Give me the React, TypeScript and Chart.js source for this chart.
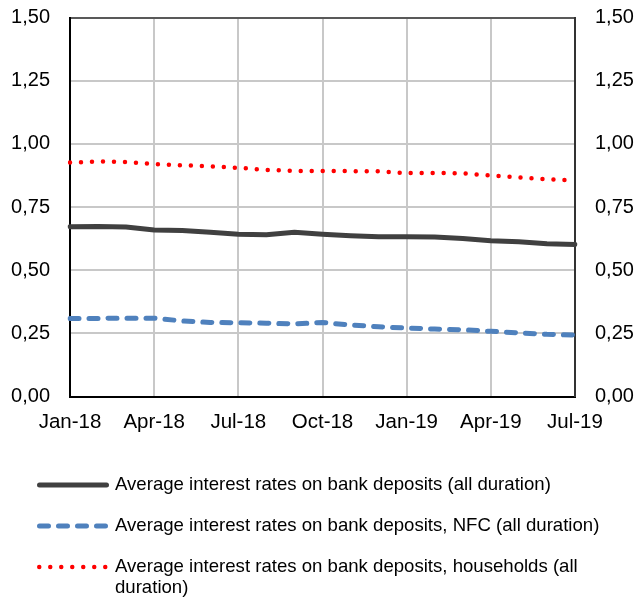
import React, { useEffect, useRef } from "react";
import { Chart, registerables } from "chart.js";

Chart.register(...registerables);

const months = [
  "Jan-18", "Feb-18", "Mar-18", "Apr-18", "May-18", "Jun-18", "Jul-18", "Aug-18", "Sep-18", "Oct-18",
  "Nov-18", "Dec-18", "Jan-19", "Feb-19", "Mar-19", "Apr-19", "May-19", "Jun-19", "Jul-19",
];

const totalRates = [
  0.672, 0.673, 0.671, 0.659, 0.657, 0.650, 0.642, 0.640, 0.650, 0.642,
  0.636, 0.632, 0.632, 0.631, 0.625, 0.616, 0.612, 0.605, 0.602,
];

const nfcRates = [
  0.309, 0.309, 0.310, 0.310, 0.299, 0.293, 0.292, 0.290, 0.287, 0.293,
  0.283, 0.276, 0.271, 0.267, 0.264, 0.258, 0.252, 0.246, 0.243,
];

const householdRates = [
  0.926, 0.930, 0.928, 0.920, 0.915, 0.911, 0.905, 0.897, 0.893, 0.892,
  0.892, 0.891, 0.884, 0.885, 0.883, 0.875, 0.867, 0.860, 0.855,
];

const seriesLabels = [
  "Average interest rates on bank deposits (all duration)",
  "Average interest rates on bank deposits, NFC (all duration)",
  "Average interest rates on bank deposits, households (all duration)",
];

const yMin = 0;
const yMax = 1.5;
const yStep = 0.25;
const xTickEvery = 3;

const FONT = "'Liberation Sans', Arial, sans-serif";

const fmt = (v: number) => Number(v).toFixed(2).replace(".", ",");

const legendPlugin = {
  id: "customLegend",
  afterDraw(chart: any) {
    const ctx = chart.ctx as CanvasRenderingContext2D;
    const startX = 37;
    const sampleW = 72;
    const textX = 115;
    const maxW = 490;
    const rowY = [485, 526, 567];
    const lineH = 21;
    ctx.save();
    ctx.font = `18.6px ${FONT}`;
    ctx.textBaseline = "middle";
    ctx.textAlign = "left";
    chart.data.datasets.forEach((ds: any, i: number) => {
      const y = rowY[i];
      ctx.save();
      ctx.strokeStyle = ds.borderColor;
      ctx.lineWidth = ds.borderWidth;
      ctx.lineCap = ds.borderCapStyle || "butt";
      ctx.setLineDash(ds.borderDash || []);
      ctx.beginPath();
      const inset = ds.borderCapStyle === "round" ? ds.borderWidth / 2 : 0;
      ctx.moveTo(startX + inset, y);
      ctx.lineTo(startX + sampleW - inset, y);
      ctx.stroke();
      ctx.restore();
      ctx.fillStyle = "#000";
      const words = String(ds.label).split(" ");
      const lines: string[] = [];
      let cur = "";
      for (const w of words) {
        const test = cur ? cur + " " + w : w;
        if (ctx.measureText(test).width > maxW && cur) {
          lines.push(cur);
          cur = w;
        } else {
          cur = test;
        }
      }
      if (cur) lines.push(cur);
      lines.forEach((ln, k) => ctx.fillText(ln, textX, y + k * lineH));
    });
    ctx.restore();
  },
};

export default function App() {
  const canvasRef = useRef<HTMLCanvasElement | null>(null);

  useEffect(() => {
    document.body.style.margin = "0";
    const canvas = canvasRef.current;
    if (!canvas) return;
    const chart = new Chart(canvas, {
      type: "line",
      data: {
        labels: months,
        datasets: [
          {
            label: seriesLabels[0],
            data: totalRates,
            borderColor: "#404040",
            backgroundColor: "#404040",
            borderWidth: 5,
            borderCapStyle: "round",
            pointRadius: 0,
            tension: 0,
            yAxisID: "y",
          },
          {
            label: seriesLabels[1],
            data: nfcRates,
            borderColor: "#4f81bd",
            backgroundColor: "#4f81bd",
            borderWidth: 5,
            borderDash: [9, 10],
            borderCapStyle: "round",
            pointRadius: 0,
            tension: 0,
            yAxisID: "y",
          },
          {
            label: seriesLabels[2],
            data: householdRates,
            borderColor: "#ff0000",
            backgroundColor: "#ff0000",
            borderWidth: 4.5,
            borderDash: [0, 11],
            borderCapStyle: "round",
            pointRadius: 0,
            tension: 0,
            yAxisID: "y",
          },
        ] as any,
      },
      options: {
        animation: false,
        responsive: false,
        devicePixelRatio: 1,
        layout: { padding: { top: 17.5, bottom: 151.5, left: 0, right: 0 } },
        plugins: {
          legend: { display: false },
          tooltip: { enabled: false },
        },
        scales: {
          x: {
            type: "category",
            offset: false,
            grid: {
              drawTicks: false,
              lineWidth: 2,
              color: (c: any) => (c.index % xTickEvery === 0 ? "#c8c8c8" : "rgba(0,0,0,0)"),
            },
            border: { color: "#000", width: 2 },
            ticks: {
              autoSkip: false,
              maxRotation: 0,
              padding: 14,
              color: "#000",
              font: { family: FONT, size: 20.5 },
              callback: (_v: any, i: number) => (i % xTickEvery === 0 ? months[i] : ""),
            },
            afterFit: (s: any) => {
              s.height = 50;
              s.paddingLeft = 0;
              s.paddingRight = 0;
            },
          },
          y: {
            position: "left",
            min: yMin,
            max: yMax,
            grid: {
              drawTicks: false,
              lineWidth: 2,
              color: (c: any) => (c.tick && c.tick.value === yMax ? "#595959" : "#c8c8c8"),
            },
            border: { color: "#000", width: 2 },
            ticks: {
              stepSize: yStep,
              padding: 20,
              color: "#000",
              font: { family: FONT, size: 20 },
              callback: (v: any) => fmt(v),
            },
            afterFit: (s: any) => {
              s.width = 70;
              s.paddingTop = 0;
              s.paddingBottom = 0;
            },
          },
          y1: {
            position: "right",
            min: yMin,
            max: yMax,
            grid: { drawOnChartArea: false, drawTicks: false },
            border: { color: "#333", width: 2 },
            ticks: {
              stepSize: yStep,
              padding: 20,
              color: "#000",
              font: { family: FONT, size: 20 },
              callback: (v: any) => fmt(v),
            },
            afterFit: (s: any) => {
              s.width = 61;
              s.paddingTop = 0;
              s.paddingBottom = 0;
            },
          },
        },
      } as any,
      plugins: [legendPlugin],
    });
    return () => chart.destroy();
  }, []);

  return (
    <div style={{ width: 636, height: 598 }}>
      <canvas ref={canvasRef} width={636} height={598} style={{ display: "block" }} />
    </div>
  );
}
